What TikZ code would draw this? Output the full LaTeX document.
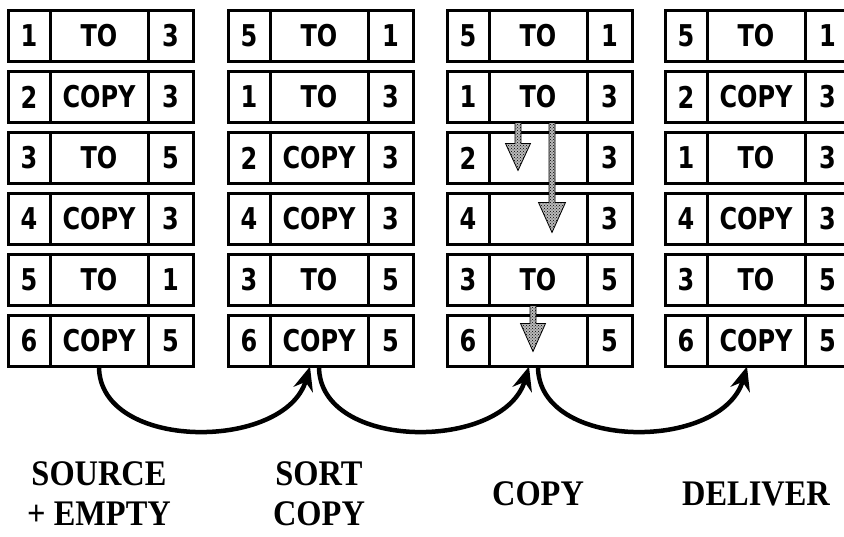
\documentclass[tikz,border=0pt]{standalone}
\usepackage{fontspec}
\usetikzlibrary{arrows.meta,positioning,calc,patterns}
\newfontfamily\cellfont[FakeStretch=0.8]{DejaVu Sans}
\newfontfamily\captfont[FakeStretch=0.9]{Liberation Serif}

\begin{document}
\begin{tikzpicture}[
    x=1pt,y=-1pt,
    cell/.style={draw,line width=3pt,outer sep=0pt,inner sep=0pt,
                 minimum height=51pt,
                 font=\cellfont\bfseries\fontsize{30}{30}\selectfont},
    num/.style={cell,minimum width=42pt},
    op/.style={cell,minimum width=98pt},
    dst/.style={cell,minimum width=45pt},
    flow/.style={-{Stealth[length=24pt,width=20pt,inset=8pt]},line width=4.5pt},
    stip/.style={draw=black,line width=0.8pt,preaction={fill=gray!55},
                 pattern=crosshatch dots},
    capt/.style={align=center,inner sep=0pt,
                 font=\captfont\bfseries\fontsize{36}{40}\selectfont},
  ]
  \path[clip] (0,0) rectangle (844,537);
  \fill[white] (0,0) rectangle (844,537);

  % source + empty
  \foreach \i/\src/\cmd/\dst in {1/1/TO/3,2/2/COPY/3,3/3/TO/5,4/4/COPY/3,5/5/TO/1,6/6/COPY/5}{
    \node[num] (a\i n) at (29,{36+61*(\i-1)}) {\src};
    \node[op,right=0pt of a\i n] (a\i o) {\cmd};
    \node[dst,right=0pt of a\i o] (a\i t) {\dst};
  }
  % sort copy
  \foreach \i/\src/\cmd/\dst in {1/5/TO/1,2/1/TO/3,3/2/COPY/3,4/4/COPY/3,5/3/TO/5,6/6/COPY/5}{
    \node[num] (b\i n) at (249,{36+61*(\i-1)}) {\src};
    \node[op,right=0pt of b\i n] (b\i o) {\cmd};
    \node[dst,right=0pt of b\i o] (b\i t) {\dst};
  }
  % copy
  \foreach \i/\src/\cmd/\dst in {1/5/TO/1,2/1/TO/3,3/2/{}/3,4/4/{}/3,5/3/TO/5,6/6/{}/5}{
    \node[num] (c\i n) at (468,{36+61*(\i-1)}) {\src};
    \node[op,right=0pt of c\i n] (c\i o) {\cmd};
    \node[dst,right=0pt of c\i o] (c\i t) {\dst};
  }
  % deliver
  \foreach \i/\src/\cmd/\dst in {1/5/TO/1,2/2/COPY/3,3/1/TO/3,4/4/COPY/3,5/3/TO/5,6/6/COPY/5}{
    \node[num] (d\i n) at (686,{36+61*(\i-1)}) {\src};
    \node[op,right=0pt of d\i n] (d\i o) {\cmd};
    \node[dst,right=0pt of d\i o] (d\i t) {\dst};
  }

  % copied words moving down
  \draw[stip] ([xshift=-23pt]c2o.south) -- ++(0,21) -- ++(-9.5,0) -- ++(12.5,27)
    -- ++(12.5,-27) -- ++(-9.5,0) -- ++(0,-21) -- cycle;
  \draw[stip] ([xshift=11pt]c2o.south) -- ++(0,80) -- ++(-10.5,0) -- ++(13.5,30)
    -- ++(13.5,-30) -- ++(-10.5,0) -- ++(0,-80) -- cycle;
  \draw[stip] ([xshift=-8pt]c5o.south) -- ++(0,18) -- ++(-9.5,0) -- ++(12.5,28)
    -- ++(12.5,-28) -- ++(-9.5,0) -- ++(0,-18) -- cycle;

  \draw[flow] (a6o.south) .. controls +(0,85) and +(-25,85) .. ([xshift=-9pt]b6o.south);
  \draw[flow] (b6o.south) .. controls +(0,85) and +(-25,85) .. ([xshift=-9pt]c6o.south);
  \draw[flow] (c6o.south) .. controls +(0,85) and +(-25,85) .. ([xshift=-9pt]d6o.south);

  \coordinate (base) at (0,494);
  \node[capt] (lsrc)  at (a6o |- base) {SOURCE\\+ EMPTY};
  \node[capt] (lsort) at (b6o |- base) {SORT\\COPY};
  \node[capt] (lcopy) at (c6o |- base) {COPY};
  \node[capt] (ldel)  at (d6o |- base) {DELIVER};
\end{tikzpicture}
\end{document}
